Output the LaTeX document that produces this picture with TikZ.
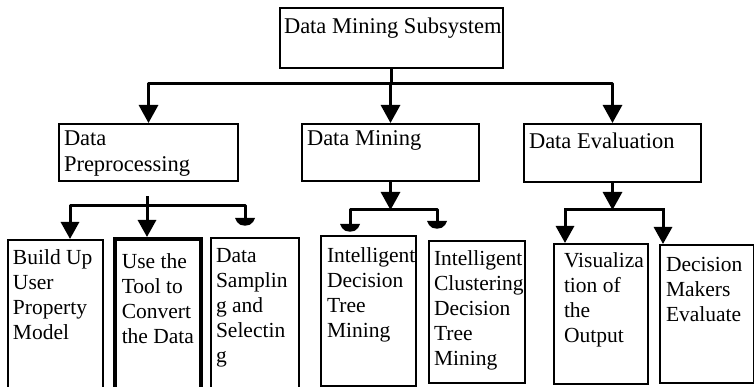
\documentclass[tikz,border=0pt]{standalone}
\usepackage{fontspec}
\setmainfont{Liberation Serif}
\usetikzlibrary{arrows.meta}
\newcommand\mybt[5]{\parbox[b][#2pt][t]{#1pt}{\vspace*{#4pt}\raggedright\leftskip=#3pt\relax #5}}
\hfuzz=40pt \hbadness=10000 \vfuzz=40pt \vbadness=10000
\begin{document}
\begin{tikzpicture}[x=1pt,y=-1pt,
  box/.style={draw, line width=2pt, inner sep=0pt, anchor=north west, font=\fontsize{21.5}{25}\selectfont},
  hbox/.style={box, font=\fontsize{22.5}{26}\selectfont},
  conn/.style={line width=3pt, line join=round, line cap=rect},
  arr/.style={line width=3pt, line join=round, -{Triangle[width=19pt,length=18pt]}},
  arrb/.style={line width=3pt, line join=round, -{Triangle[width=18pt,length=17pt]}},
  stub/.pic={\fill (-10,0) -- (10,0) -- (8,4) .. controls (5,9) and (-5,9) .. (-8,4) -- cycle;}]
\useasboundingbox (0,0) rectangle (754,387);
\fill[white] (0,0) rectangle (754,387);

% nodes
\node[hbox] (top) at (279,7) {\mybt{223}{60}{4}{10}{Data Mining Subsystem}};
\node[hbox] (prep) at (58,123) {\mybt{179}{57}{5}{7}{Data\\Preprocessing}};
\node[hbox] (mining) at (301,123) {\mybt{177}{57}{5}{7}{Data Mining}};
\node[hbox] (eval) at (523,123) {\mybt{177}{58}{5}{9}{Data Evaluation}};
\node[box] (b1) at (7,239) {\mybt{95}{151}{5}{10}{Build Up\\User\\Property\\Model}};
\node[box, line width=3.5pt] (b2) at (113,237) {\mybt{86}{153}{7}{15}{Use the\\Tool to\\Convert\\the Data}};
\node[box] (b3) at (210,237) {\mybt{88}{153}{5}{10}{Data\\Samplin\\g and\\Selectin\\g}};
\node[box] (idt) at (320,235) {\mybt{95}{150}{6}{12}{Intelligent\\Decision\\Tree\\Mining}};
\node[box] (icdt) at (428,240) {\mybt{96}{142}{5}{10}{Intelligent\\Clustering\\Decision\\Tree\\Mining}};
\node[box] (vis) at (553,243) {\mybt{94}{140}{10}{9}{Visualiza\\tion of\\the\\Output}};
\node[box] (dec) at (659,244) {\mybt{94}{138}{6}{12}{Decision\\Makers\\Evaluate}};

% top level connectors
\coordinate (ya) at (0,84);
\coordinate (j0) at (mining.north |- ya);
\draw[conn] (top.south) -- (top.south |- ya);
\draw[arr] (j0) -| (prep.north);
\draw[arr] (j0) -| (eval.north);
\draw[arr] (j0) -- (mining.north);

% data preprocessing group
\coordinate (ps) at (147,198);
\coordinate (pc) at (147,206);
\coordinate (pa) at (70,206);
\coordinate (pb) at (245,218);
\draw[conn] (ps) -- (pc);
\draw[arrb] (pc) -| (pa |- b1.north);
\draw[arrb] (pc) -- (pc |- b2.north);
\draw[conn] (pc) -| (pb);
\pic at (pb) {stub};

% data mining group
\coordinate (yb) at (0,210);
\draw[arr] (mining.south) -- (mining.south |- yb);
\coordinate (m1) at (350,224);
\coordinate (m2) at (437,210);
\coordinate (m3) at (437,221);
\draw[conn] (m1) |- (m2) -- (m3);
\pic at (m1) {stub};
\pic at (m3) {stub};

% data evaluation group
\draw[arr] (eval.south) -- (eval.south |- yb);
\coordinate (e1) at (565,210);
\coordinate (e2) at (663,210);
\draw[conn] (e1) -- (e2);
\draw[arrb] (e1) -- (e1 |- vis.north);
\draw[arrb] (e2) -- (e2 |- dec.north);
\end{tikzpicture}
\end{document}
